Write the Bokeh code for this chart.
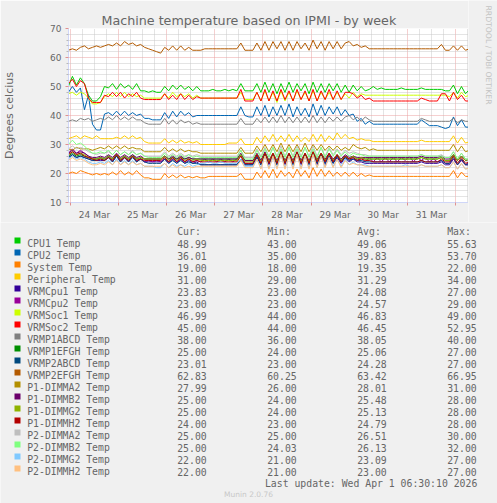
import numpy as np
from bokeh.plotting import figure
from bokeh.models import Range1d, FixedTicker
from bokeh.layouts import column, row
from bokeh.embed import file_html
from bokeh.resources import INLINE
from bokeh.core.properties import value

# ---------------- data ----------------
# samples: hours since 24 Mar 00:00, one consolidated value every 2 hours
SAMPLE_START_H = -1
SAMPLE_STEP_H = 2

day_labels = ["24 Mar", "25 Mar", "26 Mar", "27 Mar", "28 Mar", "29 Mar", "30 Mar", "31 Mar"]
y_ticks = [10, 20, 30, 40, 50, 60, 70]

cpu1_temp = [
    50, 53.5, 50.5, 53, 51, 47, 45, 45, 46.5, 50,
    49.5, 51, 49, 51, 49.5, 50.5, 49, 51, 48.5, 48.5,
    48, 48.5, 48, 48, 50, 48.5, 50.5, 49, 50.5, 49,
    50, 48.5, 50, 48.5, 48.5, 48.5, 49, 48.5, 48.5, 49,
    48.5, 49, 48.5, 51, 48.5, 48.5, 48.5, 51, 48, 51.5,
    48, 51, 47.5, 51, 48, 51.5, 48, 51, 48.5, 51,
    47.5, 51.5, 48, 51, 48, 51, 48.5, 51, 48, 50.5,
    48, 50.5, 48.5, 50, 48.5, 49, 50, 49, 49.5, 49,
    49, 49, 49, 49.5, 49, 49, 49, 49, 49.5, 49,
    49, 49, 49, 49, 48.5, 48.5, 50.5, 47.5, 50, 47.5,
    49]
cpu2_temp = [
    48, 50, 48, 49.5, 42, 47, 37, 35, 35, 40.5,
    41, 40, 41.5, 40, 41.5, 40, 41, 40, 40.5, 39,
    39, 38.5, 38.5, 38.5, 41, 39, 41.5, 39.5, 41.5, 40,
    41, 39.5, 40, 40, 40, 40, 40, 40, 40, 40,
    40, 40, 40, 43, 40, 39.5, 39.5, 43, 40, 43.5,
    39.5, 43, 40, 43.5, 40, 44, 39.5, 43, 40, 42.5,
    39.5, 44, 40, 43.5, 40, 43, 40.5, 43, 40, 42,
    40, 40.5, 38, 39, 37, 38, 37, 37, 37, 37,
    37, 37, 37, 37, 37, 37, 37, 37, 38.5, 37.5,
    36.5, 36.5, 36.5, 36, 35.5, 36, 39.5, 36.5, 38.5, 36,
    36]
system_temp = [
    20, 20.5, 20, 21, 20.5, 20, 19.5, 20, 19.5, 20,
    19.5, 20.5, 19.5, 21, 19.5, 20.5, 19.5, 21, 19.5, 18.5,
    18.5, 18, 18, 18, 20, 18.5, 19.5, 18.5, 19.5, 18.5,
    19, 18.5, 19, 18.5, 18.5, 19, 19, 19, 19, 19,
    19, 19, 19, 20, 18, 18, 18, 20.5, 18.5, 21,
    18.5, 21.5, 18.5, 21, 19, 20.5, 18.5, 21.5, 19, 21,
    18.5, 22, 19, 21.5, 19, 21, 19, 20.5, 19, 20.5,
    19, 20.5, 19, 20, 19, 19.5, 19, 19, 19, 19,
    19, 19, 19, 19, 19, 19, 19, 19, 19, 19,
    19, 19, 19, 19, 19, 19, 21, 18.5, 20.5, 19,
    19]
peripheral_temp = [
    32, 32.5, 33, 32, 33, 32.5, 32, 33, 32, 32,
    32, 32, 32.5, 32, 33, 32, 33, 32, 32.5, 31,
    30.5, 30.5, 30.5, 30.5, 32, 30.5, 31.5, 30.5, 31.5, 30.5,
    31, 30.5, 31, 30, 30, 30, 30, 30, 30, 30,
    30.5, 30.5, 30.5, 32, 30, 30, 30, 32.5, 30.5, 33,
    31, 33.5, 31, 33, 31, 33.5, 31, 33, 31, 32.5,
    31, 33.5, 31, 33.5, 31, 33, 31.5, 34, 32, 33.5,
    32, 32.5, 31.5, 32, 31.5, 31.5, 31, 31, 31, 31,
    31, 31, 31, 31, 31, 31, 31, 31, 31.5, 31,
    31, 31, 31, 31, 31, 31, 33, 30.5, 32.5, 30.5,
    31]
vrmcpu1_temp = [
    25.5, 26.5, 25.5, 26, 25.5, 25, 24.5, 24.5, 24.5, 24.5,
    25.5, 24, 26, 24, 25.5, 24, 26, 24, 25, 24,
    24, 24, 24, 24, 25, 23.5, 25, 23.5, 25, 23.5,
    24.5, 23.5, 24, 23, 23, 23, 23, 23, 23, 23,
    23, 23, 23, 25, 23, 23, 23, 25.5, 23, 26.5,
    23, 26, 23, 27, 23, 26.5, 23, 26.5, 23, 26,
    23, 27, 23, 26.5, 23, 26, 23.5, 25.5, 23.5, 25.5,
    24, 25, 24, 24, 23.5, 23.5, 23.5, 23.5, 23.5, 23.5,
    23.5, 23.5, 23.5, 23.5, 23.5, 23.5, 23.5, 23.5, 24, 23.5,
    23.5, 23.5, 23.5, 24, 23, 23, 25, 23, 24.5, 23,
    24]
vrmcpu2_temp = [
    27, 28.5, 27, 28, 27, 26, 25, 25, 25.5, 25,
    26, 24.5, 26.5, 24.5, 26, 24.5, 26, 24.5, 25, 24,
    24.5, 24, 24.5, 24, 25, 24, 25.5, 24, 25, 24,
    25, 24, 24.5, 24, 25, 24, 25, 24, 25, 24,
    25, 24, 25, 26, 23.5, 23.5, 23.5, 26, 23.5, 27,
    23.5, 26.5, 23.5, 27, 23.5, 26.5, 23.5, 27, 23.5, 26.5,
    23.5, 27, 23.5, 26.5, 23.5, 26.5, 24, 26, 24, 26,
    24.5, 25.5, 24.5, 25.5, 24, 25.5, 24, 25.5, 24, 25.5,
    24, 25.5, 24, 25.5, 24.5, 26, 24, 25.5, 24.5, 25.5,
    24, 25, 24, 24.5, 23.5, 23.5, 25, 23, 24.5, 23,
    23]
vrmsoc1_temp = [
    47.5, 48, 47, 48, 47.5, 46, 44, 44, 44.5, 46.5,
    47.5, 46.5, 48, 46.5, 48, 46.5, 47.5, 46.5, 47, 46,
    46, 46, 46, 46, 47.5, 46, 48, 46.5, 47.5, 46.5,
    47.5, 46, 47, 46, 46, 46, 46, 46, 46, 46,
    46, 46, 46, 48, 45.5, 45.5, 45.5, 48, 45, 48.5,
    45, 48, 44.5, 48.5, 45, 48, 45, 48.5, 45.5, 48,
    45, 48.5, 45, 48, 45.5, 48, 45.5, 48, 45.5, 47.5,
    46, 48, 46.5, 47.5, 47, 47, 47, 47, 47, 47,
    47, 47, 47, 47, 47, 47, 47, 47, 47, 47,
    47, 47, 47, 47, 47, 46.5, 48, 46, 48, 46.5,
    47]
vrmsoc2_temp = [
    51, 52.5, 50, 52, 51, 46, 44.5, 44.5, 44.5, 47,
    46.5, 48, 46.5, 48, 46, 47.5, 46.5, 48, 46, 45.5,
    45.5, 45.5, 45.5, 45.5, 47.5, 45.5, 47, 45.5, 47.5, 45.5,
    47, 45.5, 46.5, 46, 46, 46, 46, 46, 46, 46,
    46, 46, 46, 49, 45, 45, 45, 48, 45, 49,
    45, 48.5, 45, 49, 45.5, 48.5, 45, 49, 45.5, 48.5,
    45, 49, 45, 48.5, 45.5, 49, 45.5, 48.5, 45.5, 48,
    48, 47.5, 46, 47, 45.5, 46, 45, 45, 45, 45,
    45, 45, 45, 45, 45, 45, 45, 45, 46, 45.5,
    45, 45, 45, 47.5, 47.5, 45, 48, 45.5, 47, 45,
    45]
vrmp1abcd_temp = [
    38, 38.5, 38, 39, 38.5, 39, 38, 38.5, 39, 38.5,
    39.5, 38.5, 40, 38.5, 39.5, 38.5, 39.5, 38.5, 38.5, 37.5,
    37, 37, 37, 37, 39, 37, 38.5, 37, 38.5, 37.5,
    38, 37, 37.5, 37, 37, 37, 37, 37, 37, 37,
    37, 37, 37, 39, 37, 37, 37, 39, 37.5, 39.5,
    37.5, 39.5, 37.5, 40, 37.5, 39.5, 37.5, 39.5, 37.5, 39.5,
    37.5, 40, 37.5, 39.5, 37.5, 39.5, 38, 39.5, 38, 39.5,
    40, 38.5, 39.5, 38, 39.5, 38.5, 38, 38, 38, 38,
    38, 38, 38, 38, 38, 38, 38, 38, 39, 38.5,
    38, 38, 38, 38, 38, 38, 39, 37.5, 38.5, 38,
    38]
vrmp1efgh_temp = [
    26, 27, 26, 26.5, 26, 25.5, 25, 25, 25.5, 25,
    26, 25, 26.5, 25, 26, 25, 26.5, 25, 25.5, 25,
    25, 25, 25, 25, 26, 25, 25.5, 25, 25.5, 25,
    25.5, 25, 25, 25, 25, 25, 25, 25, 25, 25,
    25, 25, 25, 26.5, 24.5, 24.5, 24.5, 26.5, 24.5, 27,
    24.5, 26.5, 24, 27, 24.5, 26.5, 24.5, 27, 24.5, 26.5,
    24, 27, 24.5, 26.5, 24.5, 26.5, 24.5, 26, 24.5, 26,
    25, 26, 25, 25.5, 25, 25, 25, 25, 25, 25,
    25, 25, 25, 25, 25, 25, 25, 25, 25.5, 25,
    25, 25, 25, 25.5, 24.5, 24.5, 26.5, 24.5, 26, 24.5,
    25]
vrmp2abcd_temp = [
    25.5, 26.5, 25.5, 26, 25.5, 25, 24.5, 24.5, 25, 24.5,
    25.5, 24, 26, 24, 25.5, 24, 25.5, 24, 25, 24,
    23.5, 23.5, 23.5, 23.5, 25, 23.5, 24.5, 23.5, 24.5, 23.5,
    24, 23.5, 23.5, 23, 23, 23, 23, 23, 23, 23,
    23, 23, 23, 25, 23, 23, 23, 26, 23, 26.5,
    23.5, 26.5, 23, 27, 23.5, 26.5, 23, 27, 23.5, 26.5,
    23, 27, 23.5, 26.5, 23.5, 26.5, 23.5, 26, 24, 25.5,
    24.5, 25, 24.5, 24.5, 24, 24, 24, 24, 24, 24,
    24, 24, 24, 24, 24, 24, 24, 24, 24.5, 24,
    24, 24, 24, 24.5, 23.5, 23.5, 25.5, 23, 25, 23,
    23]
vrmp2efgh_temp = [
    62.5, 63, 62.5, 63.5, 64, 63, 63.5, 64, 63.5, 64,
    64.5, 64, 65, 64, 65.5, 64.5, 65, 64, 64.5, 63.5,
    63, 62.5, 62, 61.5, 63.5, 62.5, 64, 62.5, 64, 62.5,
    63.5, 62.5, 62.5, 62.5, 63, 63, 63, 63, 63, 63,
    63, 63, 63, 65, 62.5, 62.5, 62.5, 65, 62.5, 65.5,
    62.5, 65.5, 63, 65.5, 62.5, 65.5, 62.5, 65.5, 63, 65,
    62.5, 66, 63, 65.5, 62.5, 65.5, 63, 65.5, 63, 65,
    65.5, 64, 64.5, 63.5, 64, 63, 63, 63, 63, 63,
    63, 63, 63, 63, 63, 63, 63, 63, 63, 63,
    63, 63, 63, 64.5, 62.5, 62.5, 64, 62.5, 64, 62.5,
    63]
p1_dimma2_temp = [
    28.5, 28, 29, 28.5, 28.5, 28.5, 28, 28.5, 29, 28.5,
    29.5, 28.5, 29.5, 28.5, 29.5, 28.5, 29, 28.5, 28.5, 27.5,
    27.5, 27.5, 27.5, 27.5, 29, 27.5, 28.5, 27.5, 28.5, 27.5,
    28, 27.5, 27.5, 27, 27, 27, 27, 27, 27, 27,
    27, 27, 27, 29, 27, 27, 27, 29.5, 27.5, 30,
    27.5, 30, 27.5, 30.5, 27.5, 30, 27.5, 30, 27.5, 30.5,
    27.5, 30, 28, 30, 28, 29.5, 28, 29.5, 28, 29,
    28, 30, 29, 28.5, 29, 28, 28.5, 28, 28, 28,
    28, 28, 28, 28, 28, 28, 28, 28, 28, 28,
    28, 28, 28, 28, 28, 28, 30, 27.5, 29.5, 27.5,
    28]
p1_dimmb2_temp = [
    27, 28, 27, 27.5, 27, 26, 25.5, 25.5, 26, 25.5,
    26.5, 25.5, 27, 25.5, 26.5, 25.5, 26.5, 25.5, 26, 25,
    25, 25, 25, 25, 26, 25, 26, 25, 26, 25,
    25.5, 25, 25, 25, 25, 25, 25, 25, 25, 25,
    25, 25, 25, 27, 24.5, 24.5, 24.5, 27, 24.5, 27.5,
    24.5, 27, 24.5, 27.5, 24.5, 27, 24.5, 27.5, 24.5, 27,
    24.5, 27.5, 25, 27, 25, 27, 25, 26.5, 25, 26.5,
    25.5, 26, 25.5, 25.5, 25.5, 25.5, 25.5, 25.5, 25.5, 25.5,
    25.5, 25.5, 25.5, 25.5, 25.5, 25.5, 25.5, 25.5, 26, 25.5,
    25.5, 25.5, 25.5, 26, 25, 25, 26.5, 24.5, 26, 24.5,
    25]
p1_dimmg2_temp = [
    26.5, 27.5, 26.5, 27, 26.5, 25.5, 25, 25, 25.5, 25,
    26, 25, 26.5, 25, 26, 25, 26, 25, 25.5, 25,
    25, 25, 25, 25, 26, 24.5, 25.5, 24.5, 25.5, 24.5,
    25, 24.5, 25, 24.5, 24.5, 24.5, 24.5, 24.5, 24.5, 24.5,
    24.5, 24.5, 24.5, 26.5, 24, 24, 24, 26.5, 24, 27,
    24, 27, 24, 27.5, 24, 27, 24, 27, 24, 27,
    24, 27.5, 24.5, 27, 24.5, 26.5, 24.5, 26.5, 24.5, 26,
    25, 26, 25, 25.5, 25, 25, 25, 25, 25, 25,
    25, 25, 25, 25, 25, 25, 25, 25, 25.5, 25,
    25, 25, 25, 25.5, 24.5, 24.5, 26.5, 24.5, 26, 24.5,
    25]
p1_dimmh2_temp = [
    26.5, 27.5, 26.5, 27, 26, 25.5, 25, 24.5, 25, 24.5,
    25.5, 24.5, 26.5, 24.5, 25.5, 24.5, 26, 24.5, 25, 24.5,
    24.5, 24.5, 24.5, 24.5, 25.5, 24, 25.5, 24, 25.5, 24,
    25, 24, 24.5, 24, 24, 24, 24, 24, 24, 24,
    24, 24, 24, 26, 23.5, 23.5, 23.5, 26.5, 23.5, 27,
    23.5, 27, 23.5, 27.5, 23.5, 27, 23.5, 27.5, 23.5, 27,
    23.5, 27.5, 24, 27, 24, 27, 24, 26.5, 24, 26,
    25, 25.5, 24.5, 25, 24.5, 24.5, 24, 24, 24, 24,
    24, 24, 24, 24, 24, 24, 24, 24, 24.5, 24,
    24, 24, 24, 25, 24, 24, 26, 23.5, 25.5, 23.5,
    24]
p2_dimma2_temp = [
    28.5, 29.5, 28.5, 29, 28.5, 27.5, 27, 26.5, 27, 27,
    27.5, 26.5, 28, 26.5, 27.5, 26.5, 28, 26.5, 27, 26,
    26, 26, 26, 26, 27.5, 26, 27, 26, 27, 26,
    26.5, 26, 26.5, 26, 26, 26, 26, 26, 26, 26,
    26, 26, 26, 28, 25.5, 25.5, 25.5, 28.5, 26, 29,
    26, 29, 26, 29.5, 26, 29, 26, 29.5, 26, 29,
    26, 29.5, 26, 29, 26, 29, 26.5, 28.5, 26.5, 28,
    27, 27.5, 27, 26.5, 26.5, 26, 26, 26, 26, 26,
    26, 26, 26, 26, 26, 26, 26, 26, 26.5, 26,
    26, 26, 26, 26.5, 25.5, 25.5, 27.5, 25, 27, 25,
    25]
p2_dimmb2_temp = [
    30, 31.5, 30, 30.5, 29.5, 28, 27, 27, 27.5, 27,
    28, 26.5, 28, 26.5, 27.5, 26.5, 27.5, 26.5, 27, 26,
    25.5, 25.5, 25.5, 25.5, 27, 25.5, 26.5, 25.5, 26.5, 25.5,
    26.5, 25.5, 26, 25.5, 25.5, 25.5, 25.5, 25.5, 25.5, 25.5,
    25.5, 25.5, 25.5, 28, 25, 25, 25, 28, 25.5, 28.5,
    25.5, 29, 25.5, 28.5, 25.5, 29, 25.5, 28.5, 25.5, 29,
    25.5, 28.5, 25.5, 29, 25.5, 28.5, 26, 28, 26, 27.5,
    26, 27, 26.5, 26.5, 26, 26, 26, 26, 26, 26,
    26, 26, 26, 26, 26, 26, 26, 26, 26.5, 26,
    26, 26, 26, 26, 25.5, 25.5, 27.5, 25, 27, 25,
    25]
p2_dimmg2_temp = [
    25, 26, 25, 25.5, 25, 24, 23.5, 23.5, 24, 23.5,
    24.5, 23, 25, 23, 24.5, 23, 24.5, 23, 23.5, 22.5,
    22.5, 22.5, 22, 22, 23.5, 22, 23.5, 22.5, 23, 22.5,
    23.5, 22.5, 23, 23.5, 23.5, 24, 23.5, 23.5, 24, 23.5,
    23.5, 23.5, 23.5, 25, 22.5, 22.5, 22.5, 25, 22, 26,
    22, 25.5, 22, 26.5, 22, 26, 22, 26.5, 22, 26,
    22, 26.5, 22, 26, 22.5, 25.5, 22.5, 25, 22.5, 25,
    23, 24, 23, 23, 23, 22.5, 22.5, 22.5, 22.5, 22.5,
    22.5, 22.5, 22.5, 22.5, 23, 22.5, 22.5, 22.5, 23, 22.5,
    22.5, 22.5, 22.5, 23, 22, 22, 24, 21.5, 23.5, 21.5,
    22]
p2_dimmh2_temp = [
    24.5, 25.5, 24.5, 25, 24.5, 23.5, 23, 23, 23.5, 23,
    24, 23, 24.5, 23, 24, 23, 24, 23, 23.5, 22.5,
    22.5, 22.5, 22.5, 22.5, 23.5, 22, 23, 22, 23, 22,
    22.5, 22, 22.5, 22.5, 22.5, 22.5, 22.5, 22.5, 22.5, 22.5,
    22.5, 22.5, 22.5, 24.5, 22, 22, 22, 25, 21.5, 26,
    21.5, 26, 21.5, 26.5, 21.5, 26, 21.5, 26.5, 21.5, 26,
    21.5, 26.5, 22, 26, 22, 25.5, 22, 25, 22, 24.5,
    23, 23.5, 23, 23, 22.5, 22.5, 22.5, 22.5, 22.5, 22.5,
    22.5, 22.5, 22.5, 22.5, 22.5, 22.5, 22.5, 22.5, 23, 22.5,
    22.5, 22.5, 22.5, 23, 22, 22, 24, 21.5, 23.5, 21.5,
    22]

series_names = ["CPU1 Temp", "CPU2 Temp", "System Temp", "Peripheral Temp",
                "VRMCpu1 Temp", "VRMCpu2 Temp", "VRMSoc1 Temp", "VRMSoc2 Temp",
                "VRMP1ABCD Temp", "VRMP1EFGH Temp", "VRMP2ABCD Temp", "VRMP2EFGH Temp",
                "P1-DIMMA2 Temp", "P1-DIMMB2 Temp", "P1-DIMMG2 Temp", "P1-DIMMH2 Temp",
                "P2-DIMMA2 Temp", "P2-DIMMB2 Temp", "P2-DIMMG2 Temp", "P2-DIMMH2 Temp"]
series_colors = ["#00CC00", "#0066B3", "#FF8000", "#FFCC00",
                 "#330099", "#990099", "#CCFF00", "#FF0000",
                 "#808080", "#008F00", "#00487D", "#B35A00",
                 "#B38F00", "#6B006B", "#8FB300", "#B30000",
                 "#BEBEBE", "#80FF80", "#80C9FF", "#FFC080"]
series_values = [cpu1_temp, cpu2_temp, system_temp, peripheral_temp,
                 vrmcpu1_temp, vrmcpu2_temp, vrmsoc1_temp, vrmsoc2_temp,
                 vrmp1abcd_temp, vrmp1efgh_temp, vrmp2abcd_temp, vrmp2efgh_temp,
                 p1_dimma2_temp, p1_dimmb2_temp, p1_dimmg2_temp, p1_dimmh2_temp,
                 p2_dimma2_temp, p2_dimmb2_temp, p2_dimmg2_temp, p2_dimmh2_temp]

cur_vals = [48.99, 36.01, 19.00, 31.00, 23.83, 23.00, 46.99, 45.00, 38.00, 25.00,
            23.01, 62.83, 27.99, 25.00, 25.00, 24.00, 25.00, 25.00, 22.00, 22.00]
min_vals = [43.00, 35.00, 18.00, 29.00, 23.00, 23.00, 44.00, 44.00, 36.00, 24.00,
            23.00, 60.25, 26.00, 24.00, 24.00, 23.00, 25.00, 24.03, 21.00, 21.00]
avg_vals = [49.06, 39.83, 19.35, 31.29, 24.08, 24.57, 46.83, 46.45, 38.05, 25.06,
            24.28, 63.42, 28.01, 25.48, 25.13, 24.79, 26.51, 26.13, 23.09, 23.00]
max_vals = [55.63, 53.70, 22.00, 34.00, 27.00, 29.00, 49.00, 52.95, 40.00, 27.00,
            27.00, 66.95, 31.00, 28.00, 28.00, 28.00, 30.00, 32.00, 27.00, 27.00]

title_text = "Machine temperature based on IPMI - by week"
y_label = "Degrees celcius"
last_update = "Last update: Wed Apr  1 06:30:10 2026"
watermark = "RRDTOOL / TOBI OETIKER"
munin_version = "Munin 2.0.76"

for vals in series_values:
    assert len(vals) == 101, len(vals)

hours = [SAMPLE_START_H + SAMPLE_STEP_H * i for i in range(len(cpu1_temp))]

# ---------------- styling ----------------
FONT = "#666666"
BACK = "#F0F0F0"
AXIS = "#CFD6F8"
MGRID = "#EBA0A0"
GRID = "#C8C8C8"

W = 497
W_SIDE = 29
H_MAIN = 222
H_LEG = 281

midnights = [24 * d for d in range(9)]
noons = [12 + 24 * d for d in range(len(day_labels))]
six_hourly = [h for h in range(0, 199, 6) if h % 24 != 0]
y_minor = [v for v in range(10, 71, 2) if v % 10 != 0]

p = figure(width=W - W_SIDE, height=H_MAIN, x_range=Range1d(-0.95, 198.5), y_range=Range1d(10, 70),
           output_backend="svg", toolbar_location=None,
           min_border_left=67, min_border_right=0, min_border_top=28, min_border_bottom=19,
           background_fill_color="#FFFFFF", border_fill_color=BACK, outline_line_color=None)

p.title.text = title_text
p.title.text_font = "DejaVu Sans"
p.title.text_font_size = "12.7px"
p.title.text_font_style = "normal"
p.title.text_color = FONT
p.title.align = "left"
p.title.offset = 33
p.title.standoff = 1

# grids
p.xgrid.ticker = FixedTicker(ticks=midnights, minor_ticks=six_hourly)
p.ygrid.ticker = FixedTicker(ticks=y_ticks, minor_ticks=y_minor)
for g in (p.xgrid[0], p.ygrid[0]):
    g.grid_line_color = MGRID
    g.grid_line_dash = "1 1"
    g.grid_line_width = 1
    g.minor_grid_line_color = GRID
    g.minor_grid_line_dash = "1 1"
    g.minor_grid_line_width = 1

# y axis
ya = p.yaxis[0]
ya.ticker = FixedTicker(ticks=y_ticks, minor_ticks=y_minor)
ya.axis_line_color = AXIS
ya.major_tick_line_color = "#E09090"
ya.major_tick_out = 3
ya.major_tick_in = 0
ya.minor_tick_line_color = "#B8B8B8"
ya.minor_tick_out = 2
ya.minor_tick_in = 0
ya.major_label_standoff = 4
ya.major_label_text_font = "DejaVu Sans"
ya.major_label_text_font_size = "9px"
ya.major_label_text_color = FONT
ya.axis_label = y_label
ya.axis_label_standoff = 31
ya.axis_label_text_font = "DejaVu Sans"
ya.axis_label_text_font_size = "11px"
ya.axis_label_text_font_style = "normal"
ya.axis_label_text_color = FONT

# x axis
xa = p.xaxis[0]
xa.ticker = FixedTicker(ticks=noons, minor_ticks=midnights)
xa.major_label_overrides = {h: lab for h, lab in zip(noons, day_labels)}
xa.axis_line_color = AXIS
xa.major_tick_line_color = None
xa.major_tick_out = 0
xa.major_tick_in = 0
xa.minor_tick_line_color = "#E09090"
xa.minor_tick_out = 3
xa.minor_tick_in = 0
xa.major_label_standoff = 4
xa.major_label_text_font = "DejaVu Sans"
xa.major_label_text_font_size = "9px"
xa.major_label_text_color = FONT

for name, color, vals in zip(series_names, series_colors, series_values):
    p.line(hours, vals, line_color=color, line_width=1)

# ---------------- right strip with the rrdtool watermark (pixel coordinates) ----------------
side = figure(width=W_SIDE, height=H_MAIN, x_range=Range1d(0, W_SIDE), y_range=Range1d(0, H_MAIN),
              output_backend="svg", toolbar_location=None, min_border=0,
              x_axis_type=None, y_axis_type=None,
              background_fill_color=BACK, border_fill_color=BACK, outline_line_color=None)
side.xgrid.visible = False
side.ygrid.visible = False
side.text(x=[19.5], y=[H_MAIN - 5], text=[watermark], angle=-np.pi / 2,
          text_font=value("DejaVu Sans"), text_font_size="7.7px", text_color="#C4C4C4",
          text_align="left", text_baseline="middle")

# ---------------- legend panel (pixel coordinates) ----------------
q = figure(width=W, height=H_LEG, x_range=Range1d(0, W), y_range=Range1d(H_LEG, 0),
           output_backend="svg", toolbar_location=None, min_border=0,
           x_axis_type=None, y_axis_type=None,
           background_fill_color=BACK, border_fill_color=BACK, outline_line_color=None)
q.xgrid.visible = False
q.ygrid.visible = False

ROW0 = 21
ROWH = 12
rows = [ROW0 + ROWH * k for k in range(len(series_names))]
mono = value("DejaVu Sans Mono")
FS = "9.8px"

q.quad(left=[14] * len(rows), right=[20] * len(rows), top=[r - 6 for r in rows], bottom=rows,
       fill_color=series_colors, line_color=None)
q.text(x=[26.7] * len(rows), y=rows, text=series_names, text_font=mono, text_font_size=FS,
       text_color=FONT, text_baseline="alphabetic", text_align="left")
col_x = [176.7, 266.7, 356.7, 446.7]
headers = ["Cur:", "Min:", "Avg:", "Max:"]
q.text(x=col_x, y=[ROW0 - ROWH] * 4, text=headers, text_font=mono, text_font_size=FS,
       text_color=FONT, text_baseline="alphabetic", text_align="left")
for cx, vals in zip(col_x, [cur_vals, min_vals, avg_vals, max_vals]):
    q.text(x=[cx] * len(rows), y=rows, text=[f"{v:.2f}" for v in vals], text_font=mono,
           text_font_size=FS, text_color=FONT, text_baseline="alphabetic", text_align="left")
q.text(x=[482.7], y=[ROW0 + ROWH * 20], text=[last_update], text_font=mono, text_font_size=FS,
       text_color=FONT, text_baseline="alphabetic", text_align="right")
q.text(x=[248], y=[272], text=[munin_version], text_font=value("DejaVu Sans"),
       text_font_size="7.5px", text_color="#C8C8C8", text_baseline="alphabetic",
       text_align="center")

# keep every panel's frame where it was put (no cross-plot frame alignment)
for f in (p, side, q):
    try:
        f.frame_align = False
    except Exception as exc:
        print("frame_align unavailable:", exc)

layout = column(row(p, side, spacing=0), q, spacing=0)
open("out.html", "w").write(file_html(layout, INLINE))
